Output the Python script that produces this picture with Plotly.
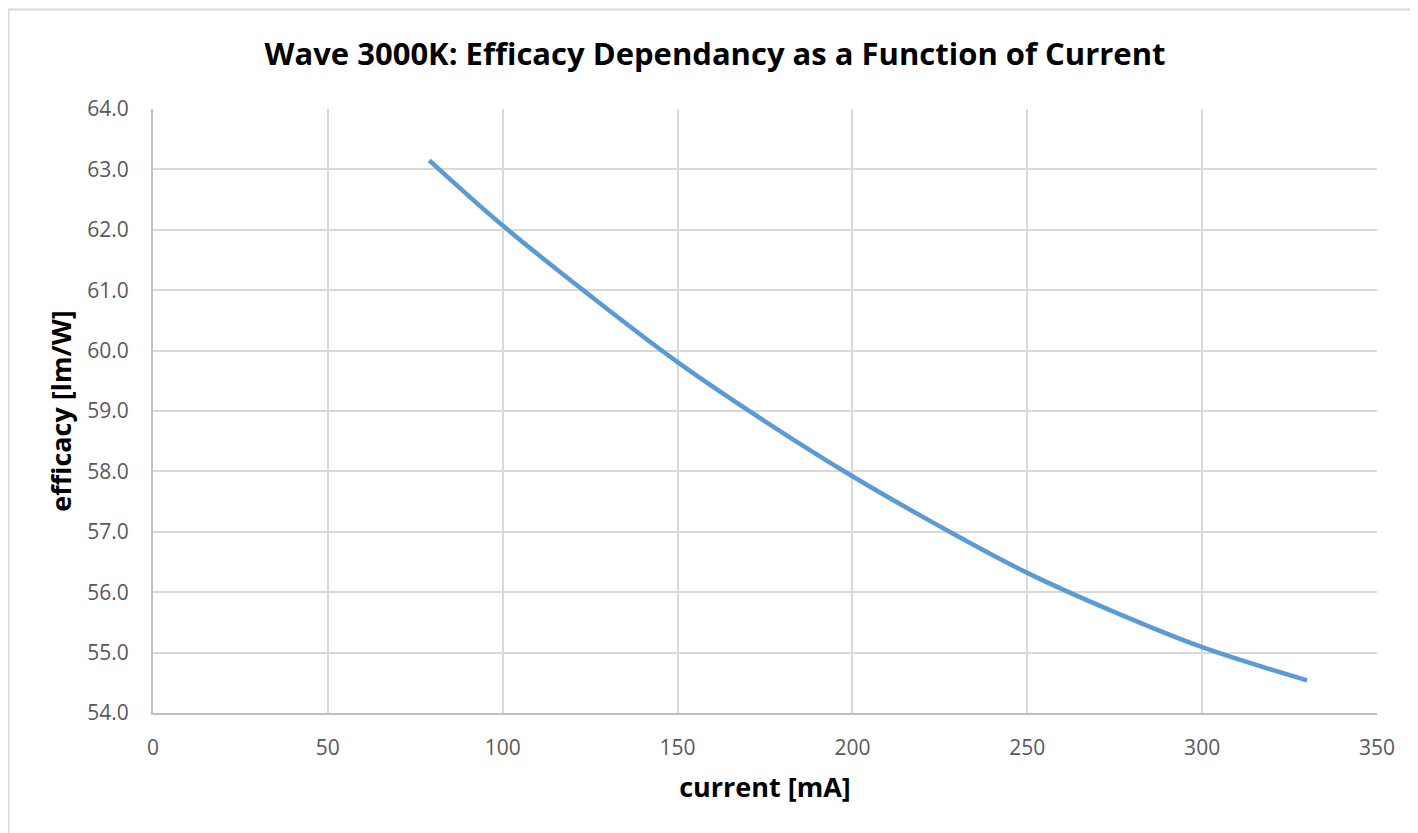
import plotly.graph_objects as go

current_mA = [79, 100, 125, 150, 175, 200, 225, 250, 275, 300, 330]
efficacy_lmW = [63.15, 62.07, 60.91, 59.81, 58.83, 57.92, 57.09, 56.32, 55.67, 55.09, 54.54]

x_ticks = [0, 50, 100, 150, 200, 250, 300, 350]
y_ticks = [54, 55, 56, 57, 58, 59, 60, 61, 62, 63, 64]

W, H = 1418, 833
L, R, T, B = 145, 49, 101, 128
pw, ph = W - L - R, H - T - B

fig = go.Figure()
fig.add_trace(go.Scatter(
    x=current_mA, y=efficacy_lmW, mode="lines",
    line=dict(color="#5b9bd5", width=4.5, shape="spline"),
    showlegend=False, hoverinfo="x+y",
))

font_fam = "Open Sans, Noto Sans, Liberation Sans, sans-serif"

fig.update_layout(
    width=W, height=H,
    margin=dict(l=L, r=R, t=T, b=B),
    paper_bgcolor="white", plot_bgcolor="white",
    font=dict(family=font_fam, color="#595959"),
    title=dict(
        text="<b>Wave 3000K: Efficacy Dependancy as a Function of Current</b>",
        x=(707 - L) / pw, xref="paper", xanchor="center",
        y=1 - 46 / H, yref="container", yanchor="middle",
        font=dict(size=31, color="#000000", family=font_fam),
    ),
    xaxis=dict(
        range=[0, 350], tickvals=x_ticks, ticktext=[str(v) for v in x_ticks],
        showgrid=True, gridcolor="#d9d9d9", gridwidth=1.5,
        showline=True, linecolor="#bfbfbf", linewidth=2,
        zeroline=False, ticks="", ticklen=0, ticklabelstandoff=15,
        tickfont=dict(size=21, color="#595959"),
        title=dict(text="<b>current [mA]</b>", font=dict(size=27, color="#000000"), standoff=18),
    ),
    yaxis=dict(
        range=[54, 64], tickvals=y_ticks, ticktext=[f"{v:.1f}" for v in y_ticks],
        showgrid=True, gridcolor="#d9d9d9", gridwidth=1.5,
        showline=True, linecolor="#bfbfbf", linewidth=2,
        zeroline=False, ticks="", ticklen=0, ticklabelstandoff=18,
        tickfont=dict(size=21, color="#595959"),
        title=dict(text="<b>efficacy [lm/W]</b>", font=dict(size=27, color="#000000"), standoff=8),
    ),
    shapes=[dict(
        type="rect", xref="paper", yref="paper",
        x0=(0.5 - L) / pw, x1=(W + 20 - L) / pw,
        y0=-(B + 20) / ph, y1=(H - B - 1.5) / ph,
        line=dict(color="#d9d9d9", width=2), fillcolor="rgba(0,0,0,0)", layer="below",
    )],
)

fig.write_html("out.html")
